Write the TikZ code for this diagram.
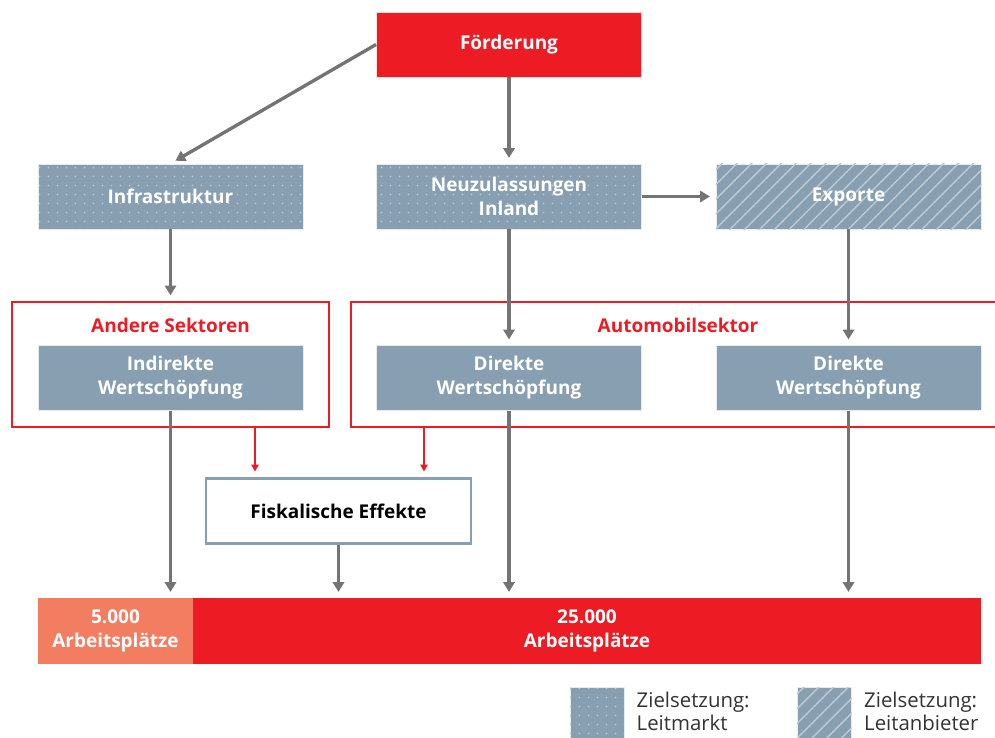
\documentclass[tikz,border=0pt]{standalone}
\usepackage{fontspec}
\setmainfont{Open Sans}
\usepackage{xcolor}
\usetikzlibrary{positioning,arrows.meta,patterns}

\definecolor{boxblue}{HTML}{879FB1}
\definecolor{hbred}{HTML}{ED1C24}
\definecolor{salmon}{HTML}{F37D61}
\definecolor{arrowgray}{HTML}{747474}
\definecolor{patternwhite}{HTML}{BCCAD5}
\definecolor{legendtext}{HTML}{333333}

% patterns for the two goals
\pgfdeclarepatternformonly{sparsedots}{\pgfpointorigin}{\pgfqpoint{6.4pt}{6.4pt}}{\pgfqpoint{6.4pt}{6.4pt}}{%
  \pgfpathcircle{\pgfqpoint{3.2pt}{3.2pt}}{0.6pt}\pgfusepath{fill}}
\pgfdeclarepatternformonly{widehatch}{\pgfqpoint{-1pt}{-1pt}}{\pgfqpoint{11.5pt}{11.5pt}}{\pgfqpoint{10.5pt}{10.5pt}}{%
  \pgfsetlinewidth{1pt}\pgfpathmoveto{\pgfqpoint{-0.5pt}{-0.5pt}}\pgfpathlineto{\pgfqpoint{11pt}{11pt}}\pgfusepath{stroke}}

\tikzset{
  box/.style={rectangle, fill=boxblue, draw=white!80!boxblue, line width=0.6pt,
    minimum width=6.625cm, minimum height=1.625cm, inner sep=0pt, align=center,
    text=white, font=\fontsize{13.5}{17}\selectfont\bfseries},
  leitmarkt/.style={box, postaction={pattern=sparsedots, pattern color=patternwhite}},
  leitanbieter/.style={box, postaction={pattern=widehatch, pattern color=patternwhite}},
  sector/.style={rectangle, draw=hbred, line width=1.4pt, inner sep=0pt},
  sectorlabel/.style={text=hbred, font=\fontsize{13.5}{17}\selectfont\bfseries},
  legtext/.style={inner sep=0pt, align=left, text=legendtext, font=\fontsize{14.5}{16}\selectfont}
}

\begin{document}
\begin{tikzpicture}[x=0.025cm,y=-0.025cm,>={Triangle[width=8pt,length=7pt]},
  grayarrow/.style={->, draw=arrowgray, line width=2.4pt, shorten >=4pt},
  redarrow/.style={-{Triangle[width=5pt,length=5pt]}, draw=hbred, line width=1.4pt, shorten >=4pt}]

  \useasboundingbox (0,0) rectangle (995,738);

  % sectors
  \node [sector, minimum width=7.925cm, minimum height=3.125cm] at (170.5,364.5) (andere) {};
  \node [sector, minimum width=16.35cm, minimum height=3.125cm] at (678,364.5) (auto) {};
  \node [sectorlabel] at (170.5,325) (andereLabel) {Andere Sektoren};
  \node [sectorlabel] at (678,325) (autoLabel) {Automobilsektor};

  % the boxes
  \node [box, fill=hbred, draw=white!85!hbred] at (509,44.5) (foerderung) {Förderung};
  \node [leitmarkt] at (170.5,196.5) (infra) {Infrastruktur};
  \node [leitmarkt] at (509,196.5) (neu) {Neuzulassungen\\Inland};
  \node [leitanbieter] at (848.5,196.5) (export) {Exporte};

  \node [box] at (170.5,378) (indirekt) {Indirekte\\Wertschöpfung};
  \node [box] at (509,378) (direktA) {Direkte\\Wertschöpfung};
  \node [box] at (848.5,378) (direktB) {Direkte\\Wertschöpfung};

  \node [box, fill=white, draw=boxblue, line width=1.6pt, text=black] at (338.5,511) (fiskal) {Fiskalische Effekte};

  % jobs
  \node [box, fill=salmon, draw=none, minimum width=3.875cm, minimum height=1.65cm] at (115.5,631) (jobsA) {5.000\\Arbeitsplätze};
  \node [box, fill=hbred, draw=none, minimum width=19.7cm, minimum height=1.65cm] at (587,631) (jobsB) {25.000\\Arbeitsplätze};

  % legend
  \node [leitmarkt, minimum width=1.35cm, minimum height=1.35cm] at (597,714) (legDots) {};
  \node [legtext, right=0.3cm of legDots, yshift=2pt] (legDotsText) {Zielsetzung:\\Leitmarkt};
  \node [leitanbieter, minimum width=1.35cm, minimum height=1.35cm] at (824.5,714) (legHatch) {};
  \node [legtext, right=0.3cm of legHatch, yshift=2pt] (legHatchText) {Zielsetzung:\\Leitanbieter};

  % edges
  \draw [grayarrow] (foerderung.west) -- (infra.north);
  \draw [grayarrow] (foerderung.south) -- (neu.north);
  \draw [grayarrow] (neu.east) -- (export.west);
  \draw [grayarrow] (infra.south) -- (andere.north);
  \draw [grayarrow] (neu.south) -- (direktA.north);
  \draw [grayarrow] (export.south) -- (direktB.north);

  \draw [grayarrow] (indirekt.south) -- (indirekt.south |- jobsA.north);
  \draw [grayarrow] (fiskal.south) -- (fiskal.south |- jobsB.north);
  \draw [grayarrow] (direktA.south) -- (direktA.south |- jobsB.north);
  \draw [grayarrow] (direktB.south) -- (direktB.south |- jobsB.north);

  \draw [redarrow] (andere.south -| 255,0) -- (fiskal.north -| 255,0);
  \draw [redarrow] (auto.south -| 424,0) -- (fiskal.north -| 424,0);

\end{tikzpicture}
\end{document}
